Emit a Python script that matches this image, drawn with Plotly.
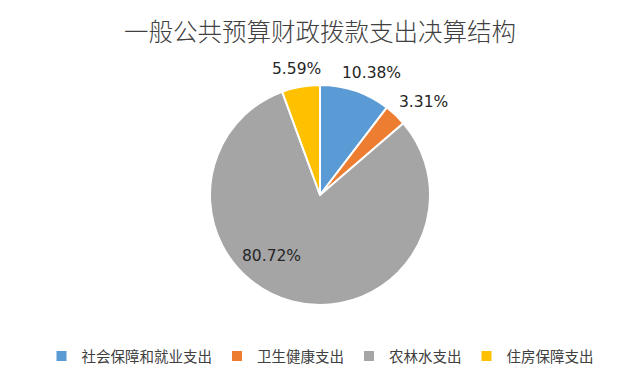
import math
import plotly.graph_objects as go

categories = ["社会保障和就业支出", "卫生健康支出", "农林水支出", "住房保障支出"]
values = [10.38, 3.31, 80.72, 5.59]
label_texts = ["10.38%", "3.31%", "80.72%", "5.59%"]
colors = ["#5B9BD5", "#ED7D31", "#A5A5A5", "#FFC000"]
title = "一般公共预算财政拨款支出决算结构"

W, H = 640, 382
CX, CY, R = 320, 195, 110

fig = go.Figure(go.Pie(
    labels=categories,
    values=values,
    sort=False,
    direction="clockwise",
    rotation=0,
    marker=dict(colors=colors, line=dict(color="white", width=2)),
    textinfo="none",
    domain=dict(x=[(CX - R) / W, (CX + R) / W], y=[(H - CY - R) / H, (H - CY + R) / H]),
    hoverinfo="label+percent",
))

# data labels placed along each slice's angle (derived from the values)
total = sum(values)
cum = 0.0
# radial distance and small angular shift (fraction of full circle), Excel-like "best fit"
placement = [(132, 0.0117), (139, 0.0128), (78, 0.067), (128, -0.002)]
for v, txt, (dist, shift) in zip(values, label_texts, placement):
    frac = (cum + v / 2) / total + shift
    cum += v
    ang = 2 * math.pi * frac
    px = CX + dist * math.sin(ang)
    py = CY - dist * math.cos(ang)
    fig.add_annotation(
        x=px / W, y=1 - py / H, xref="paper", yref="paper",
        text=txt, showarrow=False, xanchor="center", yanchor="middle",
        font=dict(family="DejaVu Sans, Noto Sans CJK SC", size=15.5, color="#262626"),
    )

fig.update_layout(
    width=W, height=H,
    margin=dict(l=0, r=0, t=0, b=0),
    paper_bgcolor="white",
    plot_bgcolor="white",
    title=dict(text=title, x=0.5, xanchor="center", y=1 - 32 / H, yanchor="middle",
               font=dict(family="Noto Sans CJK SC", size=24.5, color="#404040", weight=300)),
    legend=dict(orientation="h", x=0.5, xanchor="center", y=1 - 356 / H, yanchor="middle",
                font=dict(family="Noto Sans CJK SC", size=14.5, color="#404040"),
                itemwidth=30, traceorder="normal"),
    showlegend=True,
)

fig.write_html("out.html", config={"displayModeBar": False},
               post_script="document.body.style.margin='0';")
